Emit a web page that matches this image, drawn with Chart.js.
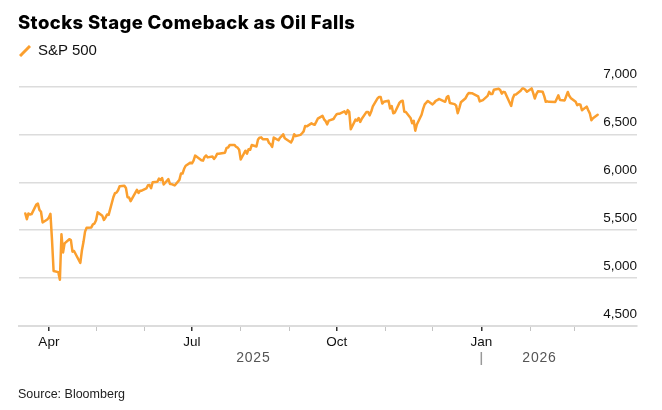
<!DOCTYPE html>
<html>
<head>
<meta charset="utf-8">
<script src="https://cdn.jsdelivr.net/npm/chart.js@4.4.1/dist/chart.umd.min.js"></script>
<style>
  body { margin:0; background:#fff; }
  #wrap { position:relative; width:662px; height:410px; overflow:hidden; }
  #c { position:absolute; left:0; top:0; }
  .title { position:absolute; left:18px; top:11px; font:800 18.5px Inter, sans-serif; letter-spacing:0.4px; color:#000; white-space:nowrap; }
  .legend { position:absolute; left:19px; top:41px; font:15px "Liberation Sans", sans-serif; color:#111; white-space:nowrap; }
  .legend svg { position:absolute; left:0; top:4px; }
  .legend span { position:absolute; left:19px; top:0; }
  .source { position:absolute; left:18px; top:387px; font:12.5px "Liberation Sans", sans-serif; color:#222; }
</style>
</head>
<body>
<div id="wrap">
  <canvas id="c" width="662" height="410"></canvas>
  <div class="title">Stocks Stage Comeback as Oil Falls</div>
  <div class="legend">
    <svg width="12" height="12"><line x1="1" y1="11" x2="11" y2="1" stroke="#fb9f2e" stroke-width="3"/></svg>
    <span>S&amp;P 500</span>
  </div>
  <div class="source">Source: Bloomberg</div>
</div>
<script>
// S&P 500 daily closes
const dates = [
  '2025-03-17','2025-03-18','2025-03-19','2025-03-20','2025-03-21','2025-03-24','2025-03-25','2025-03-26','2025-03-27','2025-03-28','2025-03-31',
  '2025-04-01','2025-04-02','2025-04-03','2025-04-04','2025-04-07','2025-04-08','2025-04-09','2025-04-10','2025-04-11','2025-04-14','2025-04-15',
  '2025-04-16','2025-04-17','2025-04-21','2025-04-22','2025-04-23','2025-04-24','2025-04-25','2025-04-28','2025-04-29','2025-04-30',
  '2025-05-01','2025-05-02','2025-05-05','2025-05-06','2025-05-07','2025-05-08','2025-05-09','2025-05-12','2025-05-13','2025-05-14','2025-05-15',
  '2025-05-16','2025-05-19','2025-05-20','2025-05-21','2025-05-22','2025-05-23','2025-05-27','2025-05-28','2025-05-29','2025-05-30',
  '2025-06-02','2025-06-03','2025-06-04','2025-06-05','2025-06-06','2025-06-09','2025-06-10','2025-06-11','2025-06-12','2025-06-13',
  '2025-06-16','2025-06-17','2025-06-18','2025-06-20','2025-06-23','2025-06-24','2025-06-25','2025-06-26','2025-06-27','2025-06-30',
  '2025-07-01','2025-07-02','2025-07-03','2025-07-07','2025-07-08','2025-07-09','2025-07-10','2025-07-11','2025-07-14','2025-07-15','2025-07-16',
  '2025-07-17','2025-07-18','2025-07-21','2025-07-22','2025-07-23','2025-07-24','2025-07-25','2025-07-28','2025-07-29','2025-07-30','2025-07-31',
  '2025-08-01','2025-08-04','2025-08-05','2025-08-06','2025-08-07','2025-08-08','2025-08-11','2025-08-12','2025-08-13','2025-08-14','2025-08-15',
  '2025-08-18','2025-08-19','2025-08-20','2025-08-21','2025-08-22','2025-08-25','2025-08-26','2025-08-27','2025-08-28','2025-08-29',
  '2025-09-02','2025-09-03','2025-09-04','2025-09-05','2025-09-08','2025-09-09','2025-09-10','2025-09-11','2025-09-12','2025-09-15','2025-09-16',
  '2025-09-17','2025-09-18','2025-09-19','2025-09-22','2025-09-23','2025-09-24','2025-09-25','2025-09-26','2025-09-29','2025-09-30',
  '2025-10-01','2025-10-02','2025-10-03','2025-10-06','2025-10-07','2025-10-08','2025-10-09','2025-10-10','2025-10-13','2025-10-14','2025-10-15',
  '2025-10-16','2025-10-17','2025-10-20','2025-10-21','2025-10-22','2025-10-23','2025-10-24','2025-10-27','2025-10-28','2025-10-29','2025-10-30','2025-10-31',
  '2025-11-03','2025-11-04','2025-11-05','2025-11-06','2025-11-07','2025-11-10','2025-11-11','2025-11-12','2025-11-13','2025-11-14',
  '2025-11-17','2025-11-18','2025-11-19','2025-11-20','2025-11-21','2025-11-24','2025-11-25','2025-11-26','2025-11-28',
  '2025-12-01','2025-12-02','2025-12-03','2025-12-04','2025-12-05','2025-12-08','2025-12-09','2025-12-10','2025-12-11','2025-12-12',
  '2025-12-15','2025-12-16','2025-12-17','2025-12-18','2025-12-19','2025-12-22','2025-12-23','2025-12-24','2025-12-26','2025-12-29','2025-12-30','2025-12-31',
  '2026-01-02','2026-01-05','2026-01-06','2026-01-07','2026-01-08','2026-01-09','2026-01-12','2026-01-13','2026-01-14','2026-01-15','2026-01-16',
  '2026-01-20','2026-01-21','2026-01-22','2026-01-23','2026-01-26','2026-01-27','2026-01-28','2026-01-29','2026-01-30',
  '2026-02-02','2026-02-03','2026-02-04','2026-02-05','2026-02-06','2026-02-09','2026-02-10','2026-02-11','2026-02-12','2026-02-13',
  '2026-02-17','2026-02-18','2026-02-19','2026-02-20','2026-02-23','2026-02-24','2026-02-25','2026-02-26','2026-02-27',
  '2026-03-02','2026-03-03','2026-03-04','2026-03-05','2026-03-06','2026-03-09','2026-03-10','2026-03-11','2026-03-12','2026-03-13','2026-03-16'
];
const spx = [
  5675,5615,5675,5663,5668,5767,5777,5712,5693,5581,5612,
  5633,5671,5396,5074,5062,4982,5457,5268,5363,5406,5397,
  5276,5283,5158,5288,5376,5485,5525,5529,5561,5569,
  5604,5686,5650,5607,5631,5664,5660,5844,5886,5892,5917,
  5958,5964,5940,5845,5842,5803,5922,5889,5912,5912,
  5936,5970,5971,5939,6000,6006,6038,6022,6045,5977,
  6033,5983,5981,5967,6025,6092,6092,6141,6173,6205,
  6198,6227,6279,6230,6226,6263,6280,6260,6269,6244,6264,
  6297,6297,6306,6309,6359,6363,6389,6390,6371,6362,6339,
  6238,6330,6299,6345,6340,6389,6374,6446,6466,6469,6450,
  6449,6411,6396,6370,6467,6439,6466,6481,6502,6460,
  6416,6448,6502,6482,6495,6512,6532,6588,6584,6615,6606,
  6600,6631,6664,6694,6657,6638,6605,6644,6661,6688,
  6711,6715,6716,6740,6714,6753,6735,6553,6654,6644,6671,
  6630,6664,6735,6735,6699,6738,6792,6875,6891,6890,6822,6840,
  6852,6771,6796,6720,6728,6832,6846,6851,6737,6734,
  6672,6617,6642,6539,6603,6705,6766,6813,6849,
  6813,6829,6850,6857,6870,6847,6840,6887,6901,6827,
  6816,6800,6721,6775,6835,6878,6910,6932,6930,6905,6896,6845,
  6858,6902,6944,6921,6921,6966,6977,6964,6926,6944,6940,
  6797,6876,6913,6916,6955,6978,6978,6965,6945,
  6980,6930,6875,6920,6950,6945,6900,6840,6845,6840,
  6838,6873,6908,6860,6855,6900,6943,6900,6878,
  6840,6805,6815,6810,6752,6790,6752,6720,6647,6668,6705
];

// axis
const monthStarts = ['2025-04-01','2025-05-01','2025-06-01','2025-07-01','2025-08-01','2025-09-01',
                     '2025-10-01','2025-11-01','2025-12-01','2026-01-01','2026-02-01','2026-03-01'];
const monthLabels = ['Apr','','','Jul','','','Oct','','','Jan','',''];
const years = ['2025','2026'];
const yearBreak = '2026-01-01';
const xRange = ['2025-03-13','2026-04-10'];
const yTicks = [4500, 5000, 5500, 6000, 6500, 7000];

const orange = '#fb9f2e';
const dayNum = d => (Date.parse(d) - Date.parse('2025-04-01')) / 864e5;

Chart.defaults.font.family = '"Liberation Sans", Arial, sans-serif';

// year labels under the month ticks, with a divider at the new year
const yearBand = {
  id: 'yearBand',
  afterDraw(chart) {
    const x = chart.scales.x, ctx = chart.ctx;
    const x0 = x.getPixelForValue(dayNum(dates[0]));
    const x1 = x.getPixelForValue(dayNum(dates[dates.length - 1]));
    const xb = x.getPixelForValue(dayNum(yearBreak));
    ctx.save();
    ctx.font = '14px "Liberation Sans", Arial, sans-serif';
    ctx.fillStyle = '#555';
    ctx.textAlign = 'center';
    ctx.textBaseline = 'middle';
    if ('letterSpacing' in ctx) ctx.letterSpacing = '0.8px';
    ctx.fillText(years[0], (x0 + xb) / 2, 358);
    ctx.fillText(years[1], (xb + x1) / 2, 358);
    ctx.strokeStyle = '#999';
    ctx.lineWidth = 1.5;
    ctx.beginPath();
    ctx.moveTo(xb, 352);
    ctx.lineTo(xb, 365);
    ctx.stroke();
    ctx.restore();
  }
};

new Chart(document.getElementById('c'), {
  type: 'line',
  data: {
    datasets: [{
      label: 'S&P 500',
      data: dates.map((d, i) => ({ x: dayNum(d), y: spx[i] })),
      borderColor: orange, borderWidth: 2.5, pointRadius: 0,
      tension: 0, borderJoinStyle: 'round', borderCapStyle: 'round'
    }]
  },
  options: {
    responsive: false, animation: false,
    layout: { padding: { left: 19, right: 25, top: 86.5, bottom: 54 } },
    plugins: { legend: { display: false }, tooltip: { enabled: false } },
    scales: {
      x: {
        type: 'linear',
        min: dayNum(xRange[0]), max: dayNum(xRange[1]),
        afterFit: s => { s.height = 30; },
        afterBuildTicks: s => { s.ticks = monthStarts.map(d => ({ value: dayNum(d) })); },
        border: { color: '#dcdcdc', width: 2 },
        grid: {
          drawOnChartArea: false, drawTicks: true, tickLength: 5,
          color: ctx => monthLabels[ctx.index] ? '#333' : '#c4c4c4',
          lineWidth: ctx => monthLabels[ctx.index] ? 1.5 : 1
        },
        ticks: {
          autoSkip: false, maxRotation: 0, padding: 3,
          color: '#111', font: { size: 13.5 },
          callback: (v, i) => monthLabels[i]
        }
      },
      y: {
        position: 'right',
        min: yTicks[0], max: yTicks[yTicks.length - 1],
        afterFit: s => { s.width = 0; },
        afterBuildTicks: s => { s.ticks = yTicks.map(v => ({ value: v })); },
        border: { display: false },
        grid: { color: '#dcdcdc', lineWidth: 1.5, drawTicks: false },
        ticks: {
          mirror: true, padding: 0, labelOffset: -12,
          color: '#111', font: { size: 13.5 },
          callback: v => v.toLocaleString('en-US')
        }
      }
    }
  },
  plugins: [yearBand]
});
</script>
</body>
</html>
